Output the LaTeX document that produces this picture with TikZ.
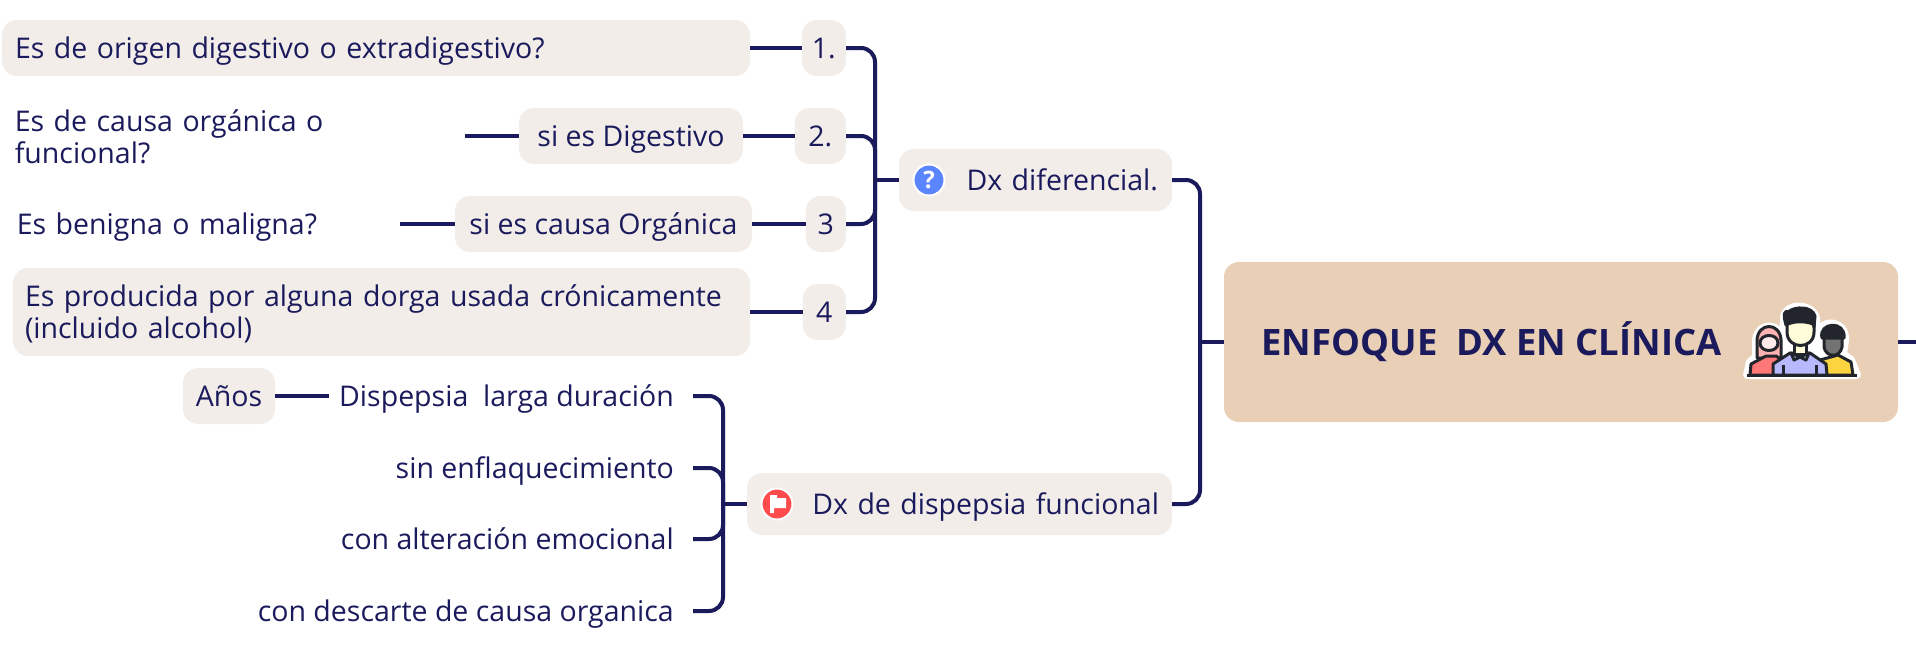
\documentclass[tikz,border=0pt]{standalone}
\usepackage{fontspec}
\setmainfont{Open Sans}
\definecolor{inkblue}{HTML}{1A1A5C}
\definecolor{boxgrey}{HTML}{F2EDE9}
\definecolor{mainsand}{HTML}{E9CFB5}
\definecolor{qblue}{HTML}{5B84FF}
\definecolor{flagred}{HTML}{FF4B4B}
\definecolor{hairblack}{HTML}{22252B}
\tikzset{
    link/.style={draw=inkblue, line width=4pt},
    spoke/.style={link, rounded corners=14pt},
    box/.style={fill=boxgrey, rounded corners=15pt, text=inkblue, minimum height=56pt, inner ysep=0pt, font=\fontsize{28.5}{32}\selectfont},
    plain/.style={text=inkblue, inner ysep=0pt, inner xsep=10pt, font=\fontsize{28.5}{32}\selectfont},
    oneline/.style={text height=24pt, text depth=4pt},
    iconring/.style={circle, draw=white, line width=2pt, minimum size=31pt, inner sep=0pt},
    outline/.style={draw=hairblack, line width=3pt, line join=round},
    halo/.style={draw=white, line width=8pt, line join=round}
}
\begin{document}
\begin{tikzpicture}[x=1pt,y=-1pt]
\useasboundingbox (0,0) rectangle (1916,648);

%%%%%%%%%%%%%%%%%%%% Main topic %%%%%%%%%%%%%%%%%%%%%%%%%%
\node[fill=mainsand, rounded corners=15pt, minimum width=674pt, minimum height=160pt] (main) at (1561,342) {};
\node[text=inkblue, inner sep=0pt, font=\fontsize{36.4}{40}\selectfont\bfseries] (maintext) at (1491.5,342) {ENFOQUE\ \ DX EN CLÍNICA};
\coordinate (stub) at (1916,342);
\draw[link] (main.east) -- (stub);

%%%%%%%%%%%%%%%%%%%% Second level %%%%%%%%%%%%%%%%%%%%%%%%%%
\node[box, oneline, minimum width=273pt, minimum height=62pt, text width=245pt, inner xsep=14pt, align=right] (dxd) at (1035.5,180) {Dx diferencial.};
\node[box, oneline, minimum width=425pt, minimum height=62pt, text width=399pt, inner xsep=13pt, align=right] (dxf) at (959.5,504) {Dx de dispepsia funcional};
\coordinate (spineM) at (1200,342);
\draw[spoke] (dxd.east) -| (spineM);
\draw[spoke] (dxf.east) -| (spineM);
\draw[link] (spineM) -- (main.west);

%icons of the second level
\node[iconring, fill=qblue, text=white, font=\fontsize{24}{24}\selectfont\bfseries] (iconq) at (929,180) {?};
\node[iconring, fill=flagred] (iconf) at (777,504) {};
\fill[white] (770,513) -- (770,495) -- (777,495) -- (777,498) -- (786,498) -- (786,508) -- (774,508) -- (774,513) -- cycle;

%%%%%%%%%%%%%%%%%%%% Upper branch %%%%%%%%%%%%%%%%%%%%%%%%%%
\coordinate (spineD) at (875,180);
\foreach \index/\ypos/\wid/\lab in {1/48/44/1., 2/136/51/2., 3/224/40/3, 4/312/43/4}
{
    \node[box, oneline, anchor=east, minimum width=\wid pt, inner xsep=0pt] (n\index) at (846,\ypos) {\lab};
    \draw[spoke] (n\index.east) -| (spineD);
}
\draw[link] (spineD) -- (dxd.west);

%left of the numbers
\node[box, oneline, minimum width=748pt, text width=722pt, inner xsep=13pt, align=left] (q1) at (376,48) {Es de origen digestivo o extradigestivo?};
\node[box, oneline, minimum width=224pt] (s2) at (631,136) {si es Digestivo};
\node[box, oneline, minimum width=297pt] (s3) at (603.5,224) {si es causa Orgánica};
\node[box, minimum width=737pt, minimum height=88pt, text width=713pt, inner xsep=12pt, align=left] (q4) at (381.5,312) {\rule{0pt}{26pt}Es producida por alguna dorga usada crónicamente\\ (incluido alcohol)};
\node[plain, anchor=east, inner xsep=0pt, text width=450pt, align=left] (q2) at (465,136.5) {Es de causa orgánica o\\funcional?};
\node[plain, oneline, anchor=east, inner xsep=0pt, text width=383pt, align=left] (q3) at (400,224) {Es benigna o maligna?};
\draw[link] (q1) -- (n1);
\draw[link] (s2) -- (n2);
\draw[link] (s3) -- (n3);
\draw[link] (q4) -- (n4);
\draw[link] (q2.east |- s2) -- (s2);
\draw[link] (q3) -- (s3);

%%%%%%%%%%%%%%%%%%%% Lower branch %%%%%%%%%%%%%%%%%%%%%%%%%%
\coordinate (spineF) at (723,504);
\foreach \index/\ypos/\lab in {1/396/Dispepsia\ \ larga duración, 2/468/sin enflaquecimiento, 3/539/con alteración emocional, 4/611/con descarte de causa organica}
{
    \node[plain, oneline, anchor=east] (b\index) at (684,\ypos) {\lab};
    \draw[spoke, shorten <=9pt] (b\index.east) -| (spineF);
}
\draw[link] (spineF) -- (dxf.west);
\node[box, oneline, minimum width=92pt] (anos) at (229,396) {Años};
\draw[link] (anos) -- (b1);

%%%%%%%%%%%%%%%%%%%% People icon %%%%%%%%%%%%%%%%%%%%%%%%%%
%white halo first
\draw[halo, fill=white] (1747,375) -- (1750,362) -- (1756,357) -- (1756,340) .. controls (1758,322) and (1780,322) .. (1783,340) -- (1784,320) .. controls (1782,303) and (1812,302) .. (1816,318) -- (1816,330) -- (1821,330) .. controls (1822,320) and (1846,320) .. (1845,340) -- (1843,354) -- (1851,360) -- (1857,375) -- cycle;
%left person
\draw[outline, fill=red!30!white] (1757,358) -- (1757,340) .. controls (1758,322) and (1780,322) .. (1781,340) -- (1781,358) -- cycle;
\draw[outline, fill=flagred!75!white] (1750,375) -- (1751,364) -- (1766,356) -- (1776,356) -- (1785,362) -- (1785,375) -- cycle;
\draw[outline, fill=white!92!red] (1760,343) .. controls (1760,333) and (1778,333) .. (1778,343) .. controls (1778,353) and (1760,353) .. (1760,343) -- cycle;
%right person
\draw[outline, fill=yellow!60!orange!75!white] (1820,375) -- (1820,360) -- (1838,355) -- (1851,362) -- (1853,375) -- cycle;
\draw[outline, fill=black!55] (1824,335) -- (1842,335) -- (1842,347) .. controls (1840,358) and (1826,358) .. (1824,347) -- cycle;
\draw[outline, fill=hairblack] (1822,338) .. controls (1818,322) and (1846,320) .. (1844,338) -- (1841,338) -- (1825,338) -- cycle;
%middle person
\draw[outline, fill=blue!28!white] (1773,375) -- (1773,364) -- (1790,353) -- (1810,353) -- (1826,364) -- (1827,375) -- cycle;
\draw[outline, fill=yellow!15!white] (1794,342) -- (1806,342) -- (1806,354) -- (1794,354) -- cycle;
\draw[fill=cyan!35!white, outline] (1791,353) -- (1800,357) -- (1809,353) -- (1806,360) -- (1800,357) -- (1794,360) -- cycle;
\draw[outline, fill=yellow!15!white] (1787,320) -- (1814,320) -- (1814,332) .. controls (1814,350) and (1787,350) .. (1787,332) -- cycle;
\draw[outline, fill=hairblack] (1786,325) .. controls (1782,312) and (1786,310) .. (1788,312) .. controls (1795,306) and (1812,306) .. (1815,316) -- (1814,327) -- (1813,324) .. controls (1805,321) and (1795,321) .. (1788,324) -- cycle;
\draw[outline] (1783,365) -- (1783,375);
\draw[outline] (1816,365) -- (1816,375);
\draw[outline] (1747,375) -- (1857,375);
\end{tikzpicture}
\end{document}
